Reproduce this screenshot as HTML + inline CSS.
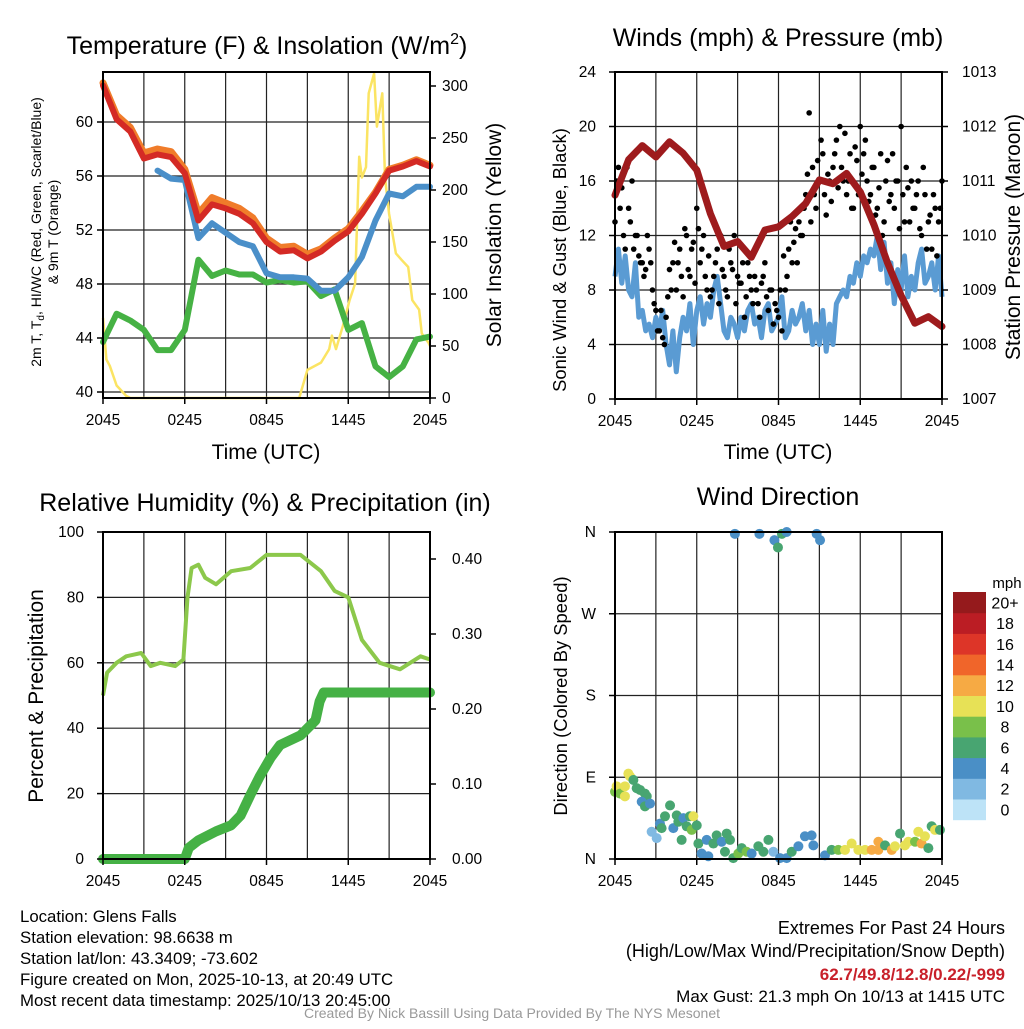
<!DOCTYPE html>
<html><head><meta charset="utf-8"><style>
body{margin:0;background:#fff}
svg text{font-family:"Liberation Sans",sans-serif;fill:#000}
</style></head><body>
<svg id="c" width="1024" height="1024" viewBox="0 0 1024 1024" xmlns="http://www.w3.org/2000/svg"></svg>
<script>
// ---------- DATA ----------
const hours = [0,1,2,3,4,5,6,7,8,9,10,11,12,13,14,15,16,17,18,19,20,21,22,23,24];
const xTickLabels = ["2045","0245","0845","1445","2045"];
const tempTicks = [40,44,48,52,56,60];
const solarTicks = [0,50,100,150,200,250,300];
const temp2m = [62.7,60.2,59.3,57.3,57.6,57.4,56.2,52.7,53.9,53.6,53.2,52.5,51.1,50.4,50.5,49.9,50.4,51.2,51.9,53.2,54.7,56.4,56.7,57.1,56.7];
const temp9m = [62.9,60.5,59.6,57.7,58.0,57.8,56.5,53.2,54.4,54.0,53.6,52.9,51.4,50.7,50.8,50.2,50.6,51.4,52.1,53.4,54.8,56.5,56.8,57.2,56.8];
const hiwc = [null,58.3,null,null,56.4,55.8,55.7,51.4,52.5,51.8,51.1,50.8,48.8,48.5,48.5,48.4,47.5,47.5,48.5,50.0,52.7,54.7,54.5,55.2,55.2];
const dewpt = [43.7,45.8,45.3,44.6,43.1,43.1,44.6,49.8,48.6,49.0,48.7,48.7,48.1,48.3,48.1,48.2,47.1,47.6,44.6,45.1,41.9,41.1,41.9,43.9,44.1];
const solarTimes = [0,0.25,0.5,1,1.7,2,14.4,15,16,16.6,16.8,17.1,17.6,18.1,18.5,18.8,19.0,19.3,19.5,19.9,20.1,20.5,20.7,21.0,21.5,21.9,22.4,22.7,23.2,23.4,23.9,24];
const solarVals = [77,37,31,12,2,0,0,27,34,47,60,47,69,94,110,232,212,222,293,312,261,293,212,177,139,133,126,94,85,62,53,50];

const windTicks = [0,4,8,12,16,20,24];
const presTicks = [1007,1008,1009,1010,1011,1012,1013];
const pressure = [1010.74,1011.39,1011.65,1011.44,1011.72,1011.51,1011.2,1010.4,1009.8,1009.89,1009.6,1010.1,1010.16,1010.35,1010.59,1011.02,1010.95,1011.14,1010.8,1010.2,1009.5,1008.9,1008.39,1008.51,1008.33];
const sonicWind = [9,11,8.5,10.5,8,7.5,10,6,6.5,5, 5.5,4.5,6,5,6.5,4,2.5,5,2,4.5, 6,5,7,4,6.5,7.5,5.5,7,6,8, 9,7,5,4.5,6,5.5,4.5,6,5,6.5, 7,5.5,6,4.5,6.5,7,5,5.5,6,7.5, 4.5,5,6.5,5.5,6,7,5,6.5,4,5.5, 4,6.5,3.5,5.5,4,7,7.5,8,7.5,9, 8.5,10,9,10.5,10,11,10.5,12,9.5,11.5, 8.5,10,7,9.5,8,10.5,7.5,9,8,10, 11,8.5,9,10,8,10.5,7.5];
const gusts = [13,17,15.5,11,14,16,12,10.5, 10,9.5,11,8,6.5,5,4.5,6, 9.5,10,8,11,7.5,12,9,11.5, 14,10,12,8,7.5,9,11,12, 9,7.5,10,12,9,8.5,6,10, 8,9,7,8.5,10,6.5,8,7, 6,5,8,11,10,12.5,13,12, 15,21,17,14,16,18,13.5,16, 17,19,20,16,15,18,14,17.5, 20,18,16,15,17,14,18,13, 17.5,15,14,16,20,13,15.5,16, 14,16,12,15,13,11,14,13,16];
const gusts2 = [16,14,12,17,13,11,12,10, 9,12,10,7,5,6.5,4,7.5, 8,11.5,10,9,12.5,9.5,11,8.5, 12.5,11,9,10.5,8,10,7,9.5, 8,11,9.5,7,8.5,10,7.5,9, 7,8,6,9,7.5,8,5.5,6.5, 8,10.5,9,13,11.5,10,12,14, 16.5,13,15,17.5,19,15,16.5,14.5, 18,15.5,17,19.5,16,14,18.5,15, 16.5,19,14.5,17,13.5,15.5,12,16, 14.5,18,16,12.5,15,17,13,14, 15,12.5,17,11,13.5,15,10.5,14];

const rhTicks = [0,20,40,60,80,100];
const precipTicks = ["0.00","0.10","0.20","0.30","0.40"];
const rhTimes = [0,0.3,1,1.7,2.8,3.5,4.2,5.3,5.9,6.2,6.5,7,7.5,8.3,9.4,10.8,12,13,14.5,16,17,18,19,20.3,21.8,23.3,24];
const rhVals = [50,57,60,62,63,59,60,59,61,80,89,90,86,84,88,89,93,93,93,88,82,80,67,60,58,62,61];
const precipTimes = [0,6,6.3,7,8.3,9.4,10.1,10.8,11.5,12.3,13,14.5,15.6,15.9,16.2,24];
const precipVals = [0,0,0.015,0.025,0.037,0.045,0.058,0.085,0.11,0.135,0.152,0.165,0.185,0.21,0.222,0.222];

const dirLabels = ["N","E","S","W","N"];
const dirTimes = [0,0.12,0.37,0.73,0.73,0.98,1.1,1.35,1.59,1.84,2.2,2.33,1.96,2.2,2.57,2.69,3.06,3.3,3.42,3.67,4.04,4.28,4.53,4.65,4.89,5.02,5.26,5.5,5.75,5.63,6.0,6.12,6.36,6.73,6.85,7.22,7.46,7.83,8.07,8.2,8.44,8.68,9.05,9.3,9.66,10.03,10.52,10.89,11.26,11.62,12.11,12.6,12.97,13.46,13.94,14.43,14.56,15.41,15.9,16.39,16.88,17.37,17.86,18.35,18.84,19.33,19.33,19.82,20.31,20.55,20.92,21.28,21.53,22.02,22.26,22.5,22.75,23.0,23.24,23.49,23.85,8.8,10.6,11.7,11.96,12.25,12.6,14.8,15.05];
const dirVals = [74,80,72,80,69,94,91,87,78,76,72,69,63,58,61,30,23,39,34,47,59,34,48,41,21,45,36,47,47,32,37,17,6,21,3,17,26,19,8,28,21,1,6,12,8,6,14,8,21,8,1,1,8,14,25,26,15,4,10,10,10,17,10,10,10,19,10,15,10,14,28,15,19,19,30,17,25,12,36,32,32,358,358,351,343,358,360,358,351];
const dirSpeeds = [9,11,9,11,11,11,11,7,7,7,7,7,5,7,5,3,3,5,7,7,7,5,7,7,7,5,7,7,11,9,7,7,5,5,5,7,7,5,7,7,7,7,9,7,9,5,7,7,7,3,5,5,7,5,5,5,5,5,7,9,11,11,11,11,13,13,13,7,13,11,7,11,11,9,11,13,11,7,7,11,7,5,5,5,7,7,5,5,5];
const cbLabels = ["0","2","4","6","8","10","12","14","16","18","20+"];
const cbColors = ["#bde3f7","#80b9e2","#4a8fc6","#48a571","#79c04a","#e7e156","#f6aa44","#f0652a","#dd3528","#bb1d24","#951a1c"];

// ---------- DRAW ----------
const svg = document.getElementById('c');
const NS = 'http://www.w3.org/2000/svg';
function el(tag, attrs, parent){const e=document.createElementNS(NS,tag);for(const k in attrs)e.setAttribute(k,attrs[k]);(parent||svg).appendChild(e);return e;}
function txt(s, attrs, parent){const e=el('text',attrs,parent);e.textContent=s;return e;}
function pathFrom(xs, ys){let d='',pen=false;for(let i=0;i<xs.length;i++){if(ys[i]===null||ys[i]===undefined){pen=false;continue;}d+=(pen?'L':'M')+xs[i].toFixed(1)+' '+ys[i].toFixed(1);pen=true;}return d;}
const TF=15.5;

function panel(name,x0,x1,y0,y1){
  const g=el('g',{});
  
  
  return {g,x0,x1,y0,y1,xs:t=>x0+(x1-x0)*t/24};
}
function gridFrame(p, yTickPix){
  const G=el('g',{},p.g);
  
  
  for(let h=3;h<24;h+=3){el('line',{x1:p.xs(h),x2:p.xs(h),y1:p.y0,y2:p.y1,stroke:'#222','stroke-width':1.2},G);}
  yTickPix.forEach(y=>el('line',{x1:p.x0,x2:p.x1,y1:y,y2:y,stroke:'#222','stroke-width':1.2},G));
}
function frame(p){
  const f=el('rect',{x:p.x0,y:p.y0,width:p.x1-p.x0,height:p.y1-p.y0,fill:'none',stroke:'#000','stroke-width':2},p.g);
  
  
  for(let h=0;h<=24;h+=6){el('line',{x1:p.xs(h),x2:p.xs(h),y1:p.y1,y2:p.y1+6,stroke:'#000','stroke-width':1.5},p.g);}
  xTickLabels.forEach((s,i)=>{const t=txt(s,{x:p.xs(i*6),y:p.y1+27,'font-size':TF,'text-anchor':'middle'},p.g);
    
    });
}

// Panel 1
const p1=panel('temperature-panel',103,430,72,398);
const tY=v=>392-(v-40)*13.5;
const sY=v=>398-v*1.04;
gridFrame(p1,tempTicks.map(tY));
const xh=hours.map(p1.xs);
let e;
e=el('path',{d:pathFrom(solarTimes.map(p1.xs),solarVals.map(sY)),fill:'none',stroke:'#fbe463','stroke-width':2.5,'stroke-linejoin':'round'},p1.g);


e=el('path',{d:pathFrom(xh,dewpt.map(tY)),fill:'none',stroke:'#46b244','stroke-width':6,'stroke-linejoin':'round','stroke-linecap':'round'},p1.g);


e=el('path',{d:pathFrom(xh,hiwc.map(v=>v===null?null:tY(v))),fill:'none',stroke:'#4a8fc9','stroke-width':6,'stroke-linejoin':'round','stroke-linecap':'round'},p1.g);


e=el('path',{d:pathFrom(xh,temp9m.map(tY)),fill:'none',stroke:'#f07c2a','stroke-width':7,'stroke-linejoin':'round','stroke-linecap':'round'},p1.g);


e=el('path',{d:pathFrom(xh,temp2m.map(tY)),fill:'none',stroke:'#d42a25','stroke-width':6,'stroke-linejoin':'round','stroke-linecap':'round'},p1.g);


frame(p1);
tempTicks.forEach(v=>{el('line',{x1:p1.x0-6,x2:p1.x0,y1:tY(v),y2:tY(v),stroke:'#000','stroke-width':1.5},p1.g);
  const t=txt(String(v),{x:p1.x0-10,y:tY(v)+5,'font-size':TF,'text-anchor':'end'},p1.g);
  
  });
solarTicks.forEach(v=>{el('line',{x1:p1.x1,x2:p1.x1+6,y1:sY(v),y2:sY(v),stroke:'#000','stroke-width':1.5},p1.g);
  const t=txt(String(v),{x:p1.x1+12,y:sY(v)+5,'font-size':TF},p1.g);
  
  });
e=txt('',{x:267,y:54,'font-size':25,'text-anchor':'middle'},p1.g);
e.innerHTML='Temperature (F) &amp; Insolation (W/m<tspan dy="-10" font-size="16">2</tspan><tspan dy="10">)</tspan>';


e=txt('Time (UTC)',{x:266,y:459,'font-size':21,'text-anchor':'middle'},p1.g);


e=txt('',{transform:'translate(41,232) rotate(-90)','font-size':14,'text-anchor':'middle'},p1.g);
e.innerHTML='2m T, T<tspan dy="3" font-size="10">d</tspan><tspan dy="-3">, HI/WC (Red, Green, Scarlet/Blue)</tspan>';


e=txt('& 9m T (Orange)',{transform:'translate(58,232) rotate(-90)','font-size':14,'text-anchor':'middle'},p1.g);


e=txt('Solar Insolation (Yellow)',{transform:'translate(501,235) rotate(-90)','font-size':21,'text-anchor':'middle'},p1.g);



// Panel 2
const p2=panel('wind-pressure-panel',615,942,72,399);
const wY=v=>399-v*13.625;
const pY=v=>399-(v-1007)*54.5;
gridFrame(p2,windTicks.map(wY));
const sStep=24/(sonicWind.length-1);
const sTimes=sonicWind.map((v,i)=>p2.xs(i*sStep));
e=el('path',{d:pathFrom(sTimes,sonicWind.map(wY)),fill:'none',stroke:'#5a9bd3','stroke-width':5,'stroke-linejoin':'round'},p2.g);


gusts.forEach((v,i)=>{const c=el('circle',{cx:p2.xs(i*0.25),cy:wY(v),r:2.8,fill:'#000'},p2.g);
  
  });
gusts2.forEach((v,i)=>{const c=el('circle',{cx:p2.xs(0.125+i*0.25),cy:wY(v),r:2.8,fill:'#000'},p2.g);
  
  });
e=el('path',{d:pathFrom(hours.map(p2.xs),pressure.map(pY)),fill:'none',stroke:'#9e1b1d','stroke-width':7,'stroke-linejoin':'round','stroke-linecap':'round'},p2.g);


frame(p2);
windTicks.forEach(v=>{el('line',{x1:p2.x0-6,x2:p2.x0,y1:wY(v),y2:wY(v),stroke:'#000','stroke-width':1.5},p2.g);
  const t=txt(String(v),{x:p2.x0-19,y:wY(v)+5,'font-size':TF,'text-anchor':'end'},p2.g);
  
  });
presTicks.forEach(v=>{el('line',{x1:p2.x1,x2:p2.x1+6,y1:pY(v),y2:pY(v),stroke:'#000','stroke-width':1.5},p2.g);
  const t=txt(String(v),{x:p2.x1+20,y:pY(v)+5,'font-size':TF},p2.g);
  
  });
e=txt('Winds (mph) & Pressure (mb)',{x:778,y:46,'font-size':25,'text-anchor':'middle'},p2.g);


e=txt('Time (UTC)',{x:778,y:459,'font-size':21,'text-anchor':'middle'},p2.g);


e=txt('Sonic Wind & Gust (Blue, Black)',{transform:'translate(566,260) rotate(-90)','font-size':18.4,'text-anchor':'middle'},p2.g);


e=txt('Station Pressure (Maroon)',{transform:'translate(1020,237) rotate(-90)','font-size':21,'text-anchor':'middle'},p2.g);



// Panel 3
const p3=panel('humidity-precip-panel',103,430,532,859);
const rY=v=>859-v*3.27;
const prY=v=>859-v*750;
gridFrame(p3,rhTicks.map(rY));
e=el('path',{d:pathFrom(rhTimes.map(p3.xs),rhVals.map(rY)),fill:'none',stroke:'#8cc84b','stroke-width':4,'stroke-linejoin':'round'},p3.g);


e=el('path',{d:pathFrom(precipTimes.map(p3.xs),precipVals.map(prY)),fill:'none',stroke:'#45b145','stroke-width':10,'stroke-linejoin':'round','stroke-linecap':'round'},p3.g);


frame(p3);
rhTicks.forEach(v=>{el('line',{x1:p3.x0-6,x2:p3.x0,y1:rY(v),y2:rY(v),stroke:'#000','stroke-width':1.5},p3.g);
  const t=txt(String(v),{x:p3.x0-19,y:rY(v)+5,'font-size':TF,'text-anchor':'end'},p3.g);
  
  });
precipTicks.forEach((s,i)=>{const y=prY(i*0.1);el('line',{x1:p3.x1,x2:p3.x1+6,y1:y,y2:y,stroke:'#000','stroke-width':1.5},p3.g);
  const t=txt(s,{x:p3.x1+22,y:y+5,'font-size':TF},p3.g);
  
  });
e=txt('Relative Humidity (%) & Precipitation (in)',{x:265,y:511,'font-size':25,'text-anchor':'middle'},p3.g);


e=txt('Percent & Precipitation',{transform:'translate(43,696) rotate(-90)','font-size':21,'text-anchor':'middle'},p3.g);



// Panel 4
const p4=panel('wind-direction-panel',615,942,532,859);
const dY=v=>859-v*327/360;
gridFrame(p4,[0,90,180,270,360].map(dY));
const bin=s=>Math.max(0,Math.min(10,Math.floor(s/2)));
dirVals.forEach((v,i)=>{const c=el('circle',{cx:p4.xs(dirTimes[i]),cy:dY(v),r:5,fill:cbColors[bin(dirSpeeds[i])]},p4.g);
  
  });
frame(p4);
dirLabels.forEach((s,i)=>{const y=dY(i*90);el('line',{x1:p4.x0-6,x2:p4.x0,y1:y,y2:y,stroke:'#000','stroke-width':1.5},p4.g);
  const t=txt(s,{x:p4.x0-19,y:y+5,'font-size':TF,'text-anchor':'end'},p4.g);
  
  });
e=txt('Wind Direction',{x:778,y:505,'font-size':25,'text-anchor':'middle'},p4.g);


e=txt('Direction (Colored By Speed)',{transform:'translate(567,696) rotate(-90)','font-size':18.4,'text-anchor':'middle'},p4.g);


const cb=el('g',{},p4.g);


const cbTop=592,cbH=20.7;
cbColors.forEach((c,i)=>{const y=cbTop+(10-i)*cbH;el('rect',{x:953,y:y,width:33,height:cbH+0.5,fill:c},cb);
  const t=txt(cbLabels[i],{x:1005,y:y+cbH/2+6,'font-size':16,'text-anchor':'middle'},cb);
  
  });
e=txt('mph',{x:1007,y:588,'font-size':15,'text-anchor':'middle'},cb);



// Footer
const info=["Location: Glens Falls","Station elevation: 98.6638 m","Station lat/lon: 43.3409; -73.602","Figure created on Mon, 2025-10-13, at 20:49 UTC","Most recent data timestamp: 2025/10/13 20:45:00"];
info.forEach((s,i)=>{const t=txt(s,{x:20,y:922+i*21,'font-size':16.8});
  
  });
e=txt('Extremes For Past 24 Hours',{x:1005,y:934,'font-size':18,'text-anchor':'end'});


e=txt('(High/Low/Max Wind/Precipitation/Snow Depth)',{x:1005,y:957,'font-size':18,'text-anchor':'end'});


e=txt('62.7/49.8/12.8/0.22/-999',{x:1005,y:980,'font-size':17,'text-anchor':'end','font-weight':'bold',style:'fill:#c8202a'});


e=txt('Max Gust: 21.3 mph On 10/13 at 1415 UTC',{x:1005,y:1002,'font-size':17,'text-anchor':'end'});


e=txt('Created By Nick Bassill Using Data Provided By The NYS Mesonet',{x:512,y:1018,'font-size':14,'text-anchor':'middle',style:'fill:#999'});


</script>
</body></html>
